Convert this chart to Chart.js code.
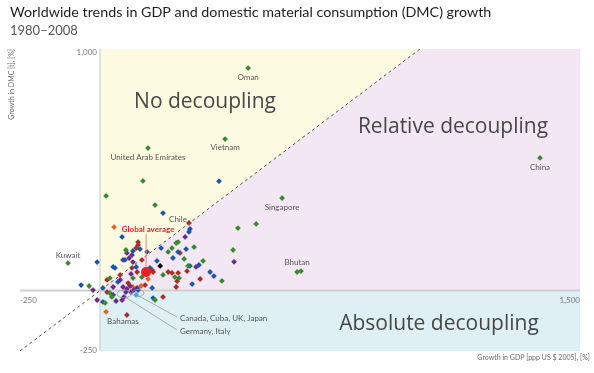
<!DOCTYPE html>
<html>
<head>
<meta charset="utf-8">
<script src="https://cdn.jsdelivr.net/npm/chart.js@4.4.1/dist/chart.umd.min.js"></script>
<style>
  html, body { margin: 0; padding: 0; background: #ffffff; }
  #wrap { position: relative; width: 594px; height: 373px; }
</style>
</head>
<body>
<div id="wrap"><canvas id="c" width="594" height="373"></canvas></div>
<script>
// ---------- DATA (growth in GDP %, growth in DMC %) ----------
const greenX = [463, 391, 150, 1375, 569, 616, 628, -100, 19, 134, 172, 431, 488, 416, 381, 244, 238, 225, 213, 294, 263, 322, 275, 197, 234, 247, 172, 81, 31, 31, 16, -34, 131, 103, 37];
const greenY = [921, 627, 590, 549, 383, 77, 81, 114, 392, 454, 354, 259, 276, 168, 40, 201, 197, 176, 160, 180, 131, 123, 102, 65, 56, 52, -39, 168, 52, -10, -51, 19, 56, 52, -26];

const blueX = [372, 197, 281, 278, 269, 244, 191, 228, 178, 309, 281, 344, 356, 288, -9, -59, 69, 103, 41, 47, 78, 113, 56, 9, 156, 163, 119, 166, 147, 125, 9];
const blueY = [453, 321, 255, 243, 172, 160, 176, 135, 123, 106, 102, 77, 60, 27, 118, 23, 222, 164, 98, 94, 127, 98, 36, 11, 94, 11, 2, -31, 160, 172, -47];

const redX = [278, 250, 313, 213, 225, 244, 238, 197, 84, 119, 119, 131, 100, 116, 22, 22, 166, 163, 113, 272, 241, 88, 63, 141];
const redY = [280, 156, 48, 77, 73, 73, 15, -26, -101, 201, 189, 127, 94, 77, 44, -6, 77, 85, 176, 81, 39, 31, 65, 23];

const purpleX = [419, 266, 300, 100, 72, 103, 91, 97, 63, -22, -9, 50, 41, 75, 69, 41, 72, 84, 94, 106, 116, 81, 97, 84];
const purpleY = [119, 222, 98, 147, 127, 118, 135, 69, 44, 2, -39, -43, -18, -26, -39, 15, 15, 7, 19, 2, 11, -6, -6, 156];

const orangeX = [44, 19, 103, 150, 128];
const orangeY = [263, -88, 15, 48, 19];

const blackX = [188];
const blackY = [102];

const cyanX = [113];
const cyanY = [-18];

const globalAverageX = [144];
const globalAverageY = [77];

// axis range and tick labels
const xRange = [-250, 1500];
const yRange = [-250, 1000];
const xTickLabels = ["-250", "1,500"];
const yTickLabels = ["1,000", "-250"];

// country labels (text, and the data point they describe)
const countryNames = ["Oman", "Vietnam", "United Arab Emirates", "China", "Singapore", "Chile", "Bhutan", "Kuwait", "Bahamas"];
const countryX = [463, 391, 150, 1375, 569, 278, 622, -100, 84];
const countryY = [921, 627, 590, 549, 383, 280, 79, 114, -101];

// grouped country notes
const groupNames = ["Canada, Cuba, UK, Japan", "Germany, Italy"];
const groupX = [119, 75];
const groupY = [-10, -14];

const titleText = "Worldwide trends in GDP and domestic material consumption (DMC) growth";
const subtitleText = "1980\u20132008";
const xAxisTitle = "Growth in GDP [ppp US $ 2005], [%]";
const yAxisTitle = "Growth in DMC [t], [%]";
const regionNames = ["No decoupling", "Relative decoupling", "Absolute decoupling"];

// ---------- helpers ----------
const pts = (xs, ys) => xs.map((x, i) => ({ x: x, y: ys[i] }));
const LABEL_FONT = "Lato, 'DejaVu Sans', sans-serif";

// label placement (pixel offsets from the point, style only)
const labelOffsets = {
  "Oman": [0, 9], "Vietnam": [0, 8], "United Arab Emirates": [0, 9], "China": [0, 9],
  "Singapore": [0, 9], "Chile": [-11, -4], "Bhutan": [-2, -9], "Kuwait": [0, -8], "Bahamas": [-4, 6]
};

const decorPlugin = {
  id: 'decor',
  beforeDatasetsDraw(chart) {
    const ctx = chart.ctx;
    const xs = chart.scales.x, ys = chart.scales.y;
    const X = v => xs.getPixelForValue(v), Y = v => ys.getPixelForValue(v);
    ctx.save();
    // Yellow: no decoupling (above the diagonal)
    ctx.fillStyle = 'rgb(253,250,226)';
    ctx.beginPath();
    ctx.moveTo(X(0), Y(0)); ctx.lineTo(X(0), Y(yRange[1])); ctx.lineTo(X(yRange[1]), Y(yRange[1])); ctx.closePath();
    ctx.fill();
    // Pink: relative decoupling
    ctx.fillStyle = 'rgb(243,231,243)';
    ctx.beginPath();
    ctx.moveTo(X(0), Y(0)); ctx.lineTo(X(yRange[1]), Y(yRange[1])); ctx.lineTo(X(xRange[1]), Y(yRange[1]));
    ctx.lineTo(X(xRange[1]), Y(0)); ctx.closePath();
    ctx.fill();
    // Blue: absolute decoupling
    ctx.fillStyle = 'rgb(222,240,244)';
    ctx.fillRect(X(0), Y(0), X(xRange[1]) - X(0), Y(yRange[0]) - Y(0));

    // axis lines
    ctx.strokeStyle = '#cfcfcf';
    ctx.lineWidth = 2;
    ctx.beginPath(); ctx.moveTo(X(xRange[0]), Y(0)); ctx.lineTo(X(xRange[1]), Y(0)); ctx.stroke();
    ctx.lineWidth = 1.2;
    ctx.beginPath(); ctx.moveTo(X(0), Y(yRange[1])); ctx.lineTo(X(0), Y(yRange[0])); ctx.stroke();

    // region names
    ctx.fillStyle = '#474747';
    ctx.font = "21px 'Open Sans', sans-serif";
    ctx.textBaseline = 'middle';
    ctx.textAlign = 'center';
    ctx.fillText(regionNames[0], X(0) + 105, Y(yRange[1]) + 53);
    ctx.fillText(regionNames[1], X(xRange[1]) - 127, Y(yRange[1]) + 78);
    ctx.fillText(regionNames[2], X(xRange[1]) - 141, Y(0) + 33);
    ctx.restore();
  },
  afterDatasetsDraw(chart) {
    const ctx = chart.ctx;
    const xs = chart.scales.x, ys = chart.scales.y;
    const X = v => xs.getPixelForValue(v), Y = v => ys.getPixelForValue(v);
    ctx.save();
    // country labels
    ctx.font = "8px " + LABEL_FONT;
    ctx.fillStyle = '#555555';
    ctx.textAlign = 'center';
    ctx.textBaseline = 'middle';
    countryNames.forEach((n, i) => {
      const o = labelOffsets[n] || [0, 9];
      ctx.fillText(n, X(countryX[i]) + o[0], Y(countryY[i]) + o[1]);
    });

    // global average label + leader
    const gx = X(globalAverageX[0]), gy = Y(globalAverageY[0]);
    ctx.strokeStyle = '#f08080';
    ctx.lineWidth = 1;
    ctx.beginPath(); ctx.moveTo(gx, gy - 5); ctx.lineTo(gx, gy - 38); ctx.stroke();
    ctx.fillStyle = '#e8202a';
    ctx.font = "bold 8px " + LABEL_FONT;
    ctx.fillText("Global average", gx + 2, gy - 43);

    // grouped notes with ellipses and leader lines
    ctx.strokeStyle = '#999999';
    ctx.lineWidth = 0.8;
    ctx.font = "8px " + LABEL_FONT;
    ctx.fillStyle = '#555555';
    ctx.textAlign = 'left';
    const targets = [[178, 318], [178, 331]];
    const ell = [[6, 3.5], [7, 4]];
    groupNames.forEach((n, i) => {
      const px = X(groupX[i]), py = Y(groupY[i]);
      ctx.beginPath(); ctx.ellipse(px, py, ell[i][0], ell[i][1], 0, 0, Math.PI * 2); ctx.stroke();
      const tx = targets[i][0], ty = targets[i][1];
      ctx.beginPath(); ctx.moveTo(px + 1, py + 3); ctx.lineTo(tx - 1, ty - 1); ctx.stroke();
      ctx.fillText(n, tx + 2, ty);
    });

    // tick labels
    ctx.font = "8px " + LABEL_FONT;
    ctx.fillStyle = '#777777';
    ctx.textAlign = 'left';
    ctx.fillText(xTickLabels[0], X(xRange[0]), Y(0) + 10);
    ctx.textAlign = 'right';
    ctx.fillText(xTickLabels[1], X(xRange[1]), Y(0) + 10);
    ctx.fillText(yTickLabels[0], X(0) - 3, Y(yRange[1]) + 3);
    ctx.fillText(yTickLabels[1], X(0) - 3, Y(yRange[0]) - 1);

    // axis titles
    ctx.font = "7px " + LABEL_FONT;
    ctx.fillStyle = '#6a6a6a';
    ctx.textAlign = 'right';
    ctx.fillText(xAxisTitle, 590, 358);
    ctx.translate(12, Y(yRange[1]));
    ctx.rotate(-Math.PI / 2);
    ctx.textAlign = 'right';
    ctx.fillText(yAxisTitle, 0, 0);
    ctx.restore();

    // title
    ctx.save();
    ctx.textBaseline = 'alphabetic';
    ctx.textAlign = 'left';
    ctx.fillStyle = '#1e1e1e';
    ctx.font = "14.3px " + LABEL_FONT;
    ctx.fillText(titleText, 10, 17);
    ctx.fillStyle = '#555555';
    ctx.font = "13px " + LABEL_FONT;
    ctx.fillText(subtitleText, 10, 35);
    ctx.restore();
  }
};

const diamond = (label, xs, ys, color) => ({
  label: label, data: pts(xs, ys), pointStyle: 'rectRot', pointRadius: 2.9,
  backgroundColor: color, borderColor: color, borderWidth: 0, order: 1
});

new Chart(document.getElementById('c'), {
  type: 'scatter',
  data: {
    datasets: [
      {
        label: 'y = x', type: 'line', data: [{ x: xRange[0], y: yRange[0] }, { x: yRange[1], y: yRange[1] }],
        borderColor: '#555555', borderWidth: 1, borderDash: [3, 3], pointRadius: 0, fill: false, order: 10
      },
      diamond('Group A', greenX, greenY, '#3b8a2e'),
      diamond('Group B', blueX, blueY, '#1f56a3'),
      diamond('Group C', redX, redY, '#a52f2f'),
      diamond('Group D', purpleX, purpleY, '#6a2c8c'),
      diamond('Group E', orangeX, orangeY, '#e0652a'),
      diamond('Group F', blackX, blackY, '#000000'),
      diamond('Group G', cyanX, cyanY, '#3aa6e0'),
      {
        label: 'Global average', data: pts(globalAverageX, globalAverageY), pointStyle: 'circle', pointRadius: 5,
        backgroundColor: '#ee1c25', borderColor: '#ee1c25', borderWidth: 0, order: 0
      }
    ]
  },
  options: {
    responsive: false,
    devicePixelRatio: 1,
    animation: false,
    layout: { padding: { left: 20, right: 14, top: 49, bottom: 22 } },
    plugins: { legend: { display: false }, tooltip: { enabled: false }, title: { display: false } },
    scales: {
      x: { type: 'linear', min: xRange[0], max: xRange[1], display: false },
      y: { type: 'linear', min: yRange[0], max: yRange[1], display: false }
    },
    clip: false
  },
  plugins: [decorPlugin]
});
</script>
</body>
</html>
